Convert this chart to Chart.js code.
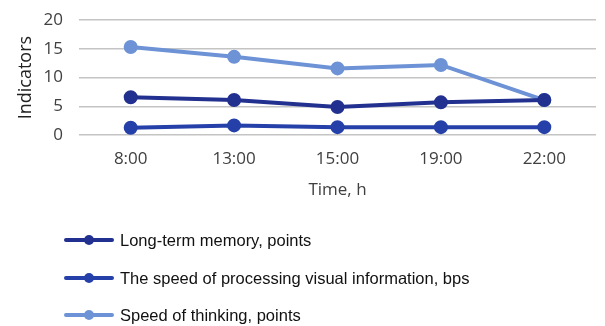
<!DOCTYPE html>
<html>
<head>
<meta charset="utf-8">
<script src="https://cdn.jsdelivr.net/npm/chart.js@4"></script>
<style>
  html, body { margin: 0; padding: 0; background: #ffffff; }
  #wrap { width: 605px; height: 326px; }
</style>
</head>
<body>
<div id="wrap"><canvas id="c" width="605" height="326"></canvas></div>
<script>
// Measurement times
const times = ['8:00', '13:00', '15:00', '19:00', '22:00'];

// Series values
const longTermMemory = [6.6, 6.1, 4.9, 5.7, 6.1];
const visualProcessingSpeed = [1.3, 1.7, 1.4, 1.4, 1.4];
const thinkingSpeed = [15.3, 13.6, 11.6, 12.2, 6.1];

// Series names
const seriesNames = [
  'Long-term memory, points',
  'The speed of processing visual information, bps',
  'Speed of thinking, points'
];

// Y axis ticks
const yTicks = [0, 5, 10, 15, 20];

const colors = ['#22308f', '#2540a8', '#6d93d6'];

function series(label, data, color) {
  return {
    label: label,
    data: data,
    borderColor: color,
    backgroundColor: color,
    pointBackgroundColor: color,
    pointBorderColor: color,
    borderWidth: 4,
    pointRadius: 5,
    pointHoverRadius: 5,
    tension: 0
  };
}

// Legend drawn as a vertical list underneath the plot
const listLegend = {
  id: 'listLegend',
  afterDraw(chart) {
    const ctx = chart.ctx;
    const rows = [240, 278, 315];
    const x0 = 66, x1 = 112;
    ctx.save();
    chart.data.datasets.forEach((ds, i) => {
      const y = rows[i];
      ctx.strokeStyle = ds.borderColor;
      ctx.lineWidth = 4;
      ctx.lineCap = 'round';
      ctx.beginPath();
      ctx.moveTo(x0, y);
      ctx.lineTo(x1, y);
      ctx.stroke();
      ctx.fillStyle = ds.borderColor;
      ctx.beginPath();
      ctx.arc((x0 + x1) / 2, y, 5, 0, Math.PI * 2);
      ctx.fill();
      ctx.fillStyle = '#111111';
      ctx.font = '16.5px "Liberation Sans", Arial, sans-serif';
      ctx.textAlign = 'left';
      ctx.textBaseline = 'middle';
      ctx.fillText(ds.label, 120, y + 1);
    });
    ctx.restore();
  }
};

const axisFont = { family: '"Open Sans", sans-serif', size: 17 };

new Chart(document.getElementById('c'), {
  type: 'line',
  data: {
    labels: times,
    datasets: [
      series(seriesNames[0], longTermMemory, colors[0]),
      series(seriesNames[1], visualProcessingSpeed, colors[1]),
      series(seriesNames[2], thinkingSpeed, colors[2])
    ]
  },
  options: {
    responsive: false,
    animation: false,
    layout: { padding: { top: 20, right: 0, bottom: 126, left: 8 } },
    plugins: {
      legend: { display: false },
      tooltip: { enabled: false }
    },
    scales: {
      x: {
        offset: true,
        grid: { display: false, drawTicks: false },
        border: { display: false },
        ticks: { color: '#404040', font: axisFont, padding: 14 },
        title: {
          display: true,
          text: 'Time, h',
          color: '#404040',
          font: axisFont,
          padding: { top: -4, bottom: 0 }
        }
      },
      y: {
        min: 0,
        max: 20,
        afterBuildTicks(scale) {
          scale.ticks = yTicks.map(v => ({ value: v }));
        },
        afterFit(scale) {
          scale.width = 71;
          scale.paddingTop = 0;
          scale.paddingBottom = 0;
        },
        grid: { color: '#c4c4c4', lineWidth: 1.5, drawTicks: false },
        border: { display: false },
        ticks: { color: '#404040', font: axisFont, padding: 16, autoSkip: false },
        title: {
          display: true,
          text: 'Indicators',
          color: '#202020',
          font: { family: '"Open Sans", sans-serif', size: 18 },
          padding: { top: 7, bottom: 4 }
        }
      }
    }
  },
  plugins: [listLegend]
});
</script>
</body>
</html>
